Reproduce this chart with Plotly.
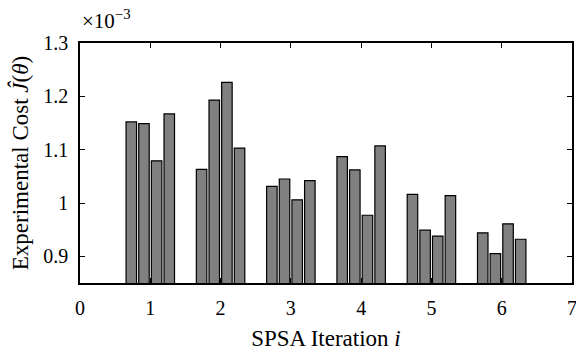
import plotly.graph_objects as go

iterations = [1, 2, 3, 4, 5, 6]
# experimental cost (x 1e-3) for the four perturbation evaluations per iteration
cost_a = [1.152, 1.063, 1.031, 1.087, 1.016, 0.944]
cost_b = [1.149, 1.193, 1.045, 1.062, 0.949, 0.905]
cost_c = [1.079, 1.226, 1.006, 0.977, 0.938, 0.961]
cost_d = [1.167, 1.103, 1.042, 1.107, 1.014, 0.932]

y_tickvals = [0.9, 1.0, 1.1, 1.2, 1.3]
y_ticktext = ["0.9", "1", "1.1", "1.2", "1.3"]
x_tickvals = [0, 1, 2, 3, 4, 5, 6, 7]

FONT = "Liberation Serif"

fig = go.Figure()
for vals in [cost_a, cost_b, cost_c, cost_d]:
    fig.add_trace(go.Bar(
        x=iterations, y=vals,
        marker=dict(color="#808080", line=dict(color="black", width=1.2)),
        showlegend=False,
    ))

fig.update_layout(
    width=576, height=354,
    margin=dict(l=80, r=4, t=43, b=71),
    paper_bgcolor="white", plot_bgcolor="white",
    barmode="group", bargap=0.28, bargroupgap=0.17,
    font=dict(family=FONT, size=20, color="black"),
    xaxis=dict(
        range=[0, 7], tickvals=x_tickvals, automargin=False,
        showline=True, linecolor="black", linewidth=1.5, mirror="ticks",
        ticks="inside", ticklen=5, tickcolor="black",
        showgrid=False, zeroline=False, ticklabelstandoff=6,
        ticklabeloverflow="allow",
        title=dict(text="SPSA Iteration <i>i</i>", standoff=12, font=dict(size=23)),
    ),
    yaxis=dict(
        range=[0.85, 1.3], tickvals=y_tickvals, ticktext=y_ticktext, automargin=False,
        showline=True, linecolor="black", linewidth=1.5, mirror="ticks",
        ticks="inside", ticklen=5, tickcolor="black",
        showgrid=False, zeroline=False, ticklabelstandoff=6,
        title=dict(text="Experimental Cost <i>Ĵ</i>(<i>θ</i>)", standoff=8, font=dict(size=23)),
    ),
    annotations=[dict(
        text="×10<sup>−3</sup>", xref="paper", yref="paper",
        x=0.0, y=1.0, xanchor="left", yanchor="bottom", yshift=8,
        showarrow=False, font=dict(size=21),
    )],
)

fig.write_html("out.html", config={"displayModeBar": False},
               post_script="document.body.style.margin='0px';")
